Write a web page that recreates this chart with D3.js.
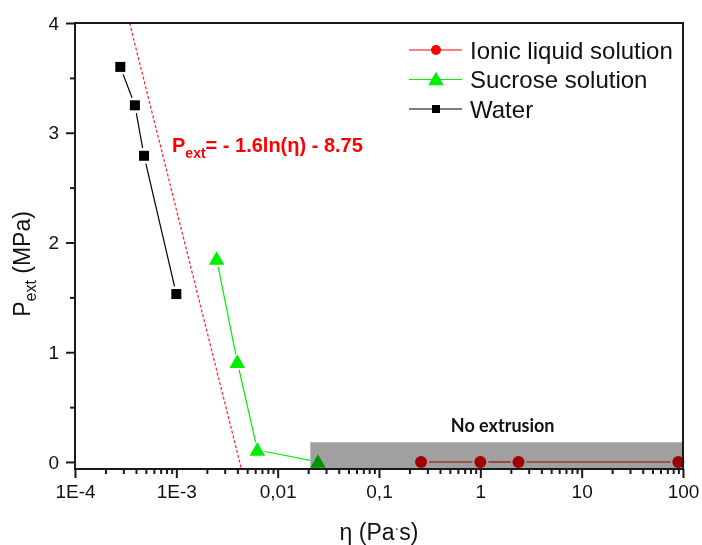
<!DOCTYPE html>
<head>
  <meta charset="utf-8">
  <script src="https://d3js.org/d3.v7.min.js"></script>
  <style>
    body { margin: 0; background: #fff; }
    text { font-family: "Liberation Sans", Arial, sans-serif; fill: #111; }
    .tick line { stroke: #1a1a1a; stroke-width: 2px; }
    .tick text { font-size: 19px; font-family: "Liberation Sans", Arial, sans-serif; }
  </style>
</head>
<body>
  <svg width="702" height="545"></svg>
  <script>
  // data
  var waterEta = [2.8e-4, 3.9e-4, 4.8e-4, 1e-3];
  var waterP = [3.6, 3.25, 2.79, 1.53];
  var sucroseEta = [2.5e-3, 4e-3, 6.3e-3, 0.025];
  var sucroseP = [1.85, 0.91, 0.11, 0];
  var ionicEta = [0.26, 1, 2.38, 90];
  var ionicP = [0, 0, 0, 0];
  var seriesNames = ["Ionic liquid solution", "Sucrose solution", "Water"];
  var seriesColors = ["#ff0000", "#00ee00", "#000000"];
  var seriesShapes = ["circle", "triangle", "square"];
  var fitCoef = [-1.6, -8.75]; // P = a ln(eta) + b
  var xTickValues = [1e-4, 1e-3, 1e-2, 1e-1, 1, 10, 100];
  var xTickLabels = ["1E-4", "1E-3", "0,01", "0,1", "1", "10", "100"];
  var yTickValues = [0, 1, 2, 3, 4];
  var noExtrusionBox = {eta0: 0.021, eta1: 100, p1: 0.18};

  var svg = d3.select('svg');
  var margin = {top: 23, right: 19, bottom: 76, left: 75};
  var width = +svg.attr('width') - margin.left - margin.right;
  var height = +svg.attr('height') - margin.top - margin.bottom;

  var x = d3.scaleLog().domain([1e-4, 100]).range([0, width]);
  var y = d3.scaleLinear().domain([-0.064, 4]).range([height, 0]);

  var g = svg.append('g')
    .attr('transform', 'translate(' + margin.left + ',' + margin.top + ')');

  svg.append('defs').append('clipPath').attr('id', 'clip')
    .append('rect').attr('width', width).attr('height', height);

  // minor ticks
  var minorX = [];
  xTickValues.slice(0, -1).forEach(function(v) {
    for (var k = 2; k < 10; k++) minorX.push(v * k);
  });
  var minorY = [0.5, 1.5, 2.5, 3.5];

  g.append('g').attr('transform', 'translate(0,' + height + ')')
    .call(d3.axisBottom(x).tickValues(minorX).tickSize(5).tickFormat(''))
    .call(function(s) { s.select('.domain').remove(); });
  g.append('g').attr('transform', 'translate(0,' + height + ')')
    .call(d3.axisBottom(x).tickValues(xTickValues).tickSize(9).tickPadding(7)
      .tickFormat(function(d, i) { return xTickLabels[i]; }))
    .call(function(s) { s.select('.domain').remove(); });

  g.append('g')
    .call(d3.axisLeft(y).tickValues(minorY).tickSize(5).tickFormat(''))
    .call(function(s) { s.select('.domain').remove(); });
  g.append('g')
    .call(d3.axisLeft(y).tickValues(yTickValues).tickSize(9).tickPadding(7)
      .tickFormat(d3.format('d')))
    .call(function(s) { s.select('.domain').remove(); });

  var plot = g.append('g').attr('clip-path', 'url(#clip)');

  // fit line from the printed equation
  var fitEta = x.domain();
  plot.append('path')
    .attr('d', d3.line()
      .x(function(d) { return x(d); })
      .y(function(d) { return y(fitCoef[0] * Math.log(d) + fitCoef[1]); })(fitEta))
    .attr('fill', 'none')
    .attr('stroke', '#ff2020')
    .attr('stroke-width', 1.2)
    .attr('stroke-dasharray', '3,2');

  function marker(sel, shape, color, s) {
    if (shape === 'circle') {
      sel.append('circle').attr('r', s / 2).attr('fill', color);
    } else if (shape === 'triangle') {
      sel.append('path').attr('fill', color)
        .attr('d', 'M0,' + (-s * 0.6) + 'L' + (s * 0.6) + ',' + (s * 0.45) + 'L' + (-s * 0.6) + ',' + (s * 0.45) + 'Z');
    } else {
      sel.append('rect').attr('x', -s / 2).attr('y', -s / 2)
        .attr('width', s).attr('height', s).attr('fill', color);
    }
  }

  var plotSizes = [12, 13, 10];
  var legendSizes = [10, 13, 8];

  function drawSeries(etas, ps, i) {
    var pts = etas.map(function(e, k) { return [x(e), y(ps[k])]; });
    var gap = 8;
    for (var k = 0; k < pts.length - 1; k++) {
      var a = pts[k], b = pts[k + 1];
      var dx = b[0] - a[0], dy = b[1] - a[1];
      var len = Math.sqrt(dx * dx + dy * dy);
      if (len <= 2 * gap) continue;
      plot.append('line')
        .attr('x1', a[0] + dx / len * gap).attr('y1', a[1] + dy / len * gap)
        .attr('x2', b[0] - dx / len * gap).attr('y2', b[1] - dy / len * gap)
        .attr('stroke', seriesColors[i]).attr('stroke-width', 1.2);
    }
    pts.forEach(function(p) {
      var m = g.append('g').attr('transform', 'translate(' + p[0] + ',' + p[1] + ')');
      marker(m, seriesShapes[i], seriesColors[i], plotSizes[i]);
    });
  }

  drawSeries(ionicEta, ionicP, 0);
  drawSeries(sucroseEta, sucroseP, 1);
  drawSeries(waterEta, waterP, 2);

  // grey "no extrusion" band, multiplied over the points
  g.append('rect')
    .attr('x', x(noExtrusionBox.eta0))
    .attr('y', y(noExtrusionBox.p1))
    .attr('width', x(noExtrusionBox.eta1) - x(noExtrusionBox.eta0))
    .attr('height', height - y(noExtrusionBox.p1))
    .attr('fill', '#a0a0a0')
    .style('mix-blend-mode', 'multiply');

  g.append('text')
    .attr('x', x(Math.sqrt(noExtrusionBox.eta0 * noExtrusionBox.eta1)) + 6)
    .attr('y', y(noExtrusionBox.p1) - 10)
    .attr('text-anchor', 'middle')
    .style('font-family', 'Lato, "Open Sans", sans-serif')
    .style('font-weight', 'bold')
    .style('font-size', '18px')
    .text('No extrusion');

  // frame
  g.append('rect')
    .attr('width', width).attr('height', height)
    .attr('fill', 'none').attr('stroke', '#1a1a1a').attr('stroke-width', 2);

  // equation label
  var eq = g.append('text')
    .attr('x', 97).attr('y', 129)
    .style('font-weight', 'bold').style('font-size', '20px').style('fill', '#ff0000');
  eq.append('tspan').text('P');
  eq.append('tspan').attr('dy', 6).style('font-size', '14px').text('ext');
  eq.append('tspan').attr('dy', -6).text('= - 1.6ln(\u03b7) - 8.75');

  // legend
  var legend = g.append('g').attr('transform', 'translate(334,27)');
  seriesNames.forEach(function(name, i) {
    var row = legend.append('g').attr('transform', 'translate(0,' + (i * 29.5) + ')');
    row.append('line').attr('x1', 0).attr('x2', 53)
      .attr('stroke', seriesColors[i]).attr('stroke-width', 1.2);
    var m = row.append('g').attr('transform', 'translate(27,0)');
    marker(m, seriesShapes[i], seriesColors[i], legendSizes[i]);
    row.append('text').attr('x', 61).attr('dy', '0.36em')
      .style('font-size', '24px').text(name);
  });

  // axis titles
  var xt = svg.append('text')
    .attr('x', 379).attr('y', 540)
    .attr('text-anchor', 'middle').style('font-size', '23px');
  xt.append('tspan').text('\u03b7 (Pa');
  xt.append('tspan').attr('dy', -7).style('font-size', '14px').text('\u00b7');
  xt.append('tspan').attr('dy', 7).text('s)');

  var yt = svg.append('text')
    .attr('transform', 'translate(30,264) rotate(-90)')
    .attr('text-anchor', 'middle').style('font-size', '23px');
  yt.append('tspan').text('P');
  yt.append('tspan').attr('dy', 6).style('font-size', '16px').text('ext');
  yt.append('tspan').attr('dy', -6).text(' (MPa)');
  </script>
</body>
